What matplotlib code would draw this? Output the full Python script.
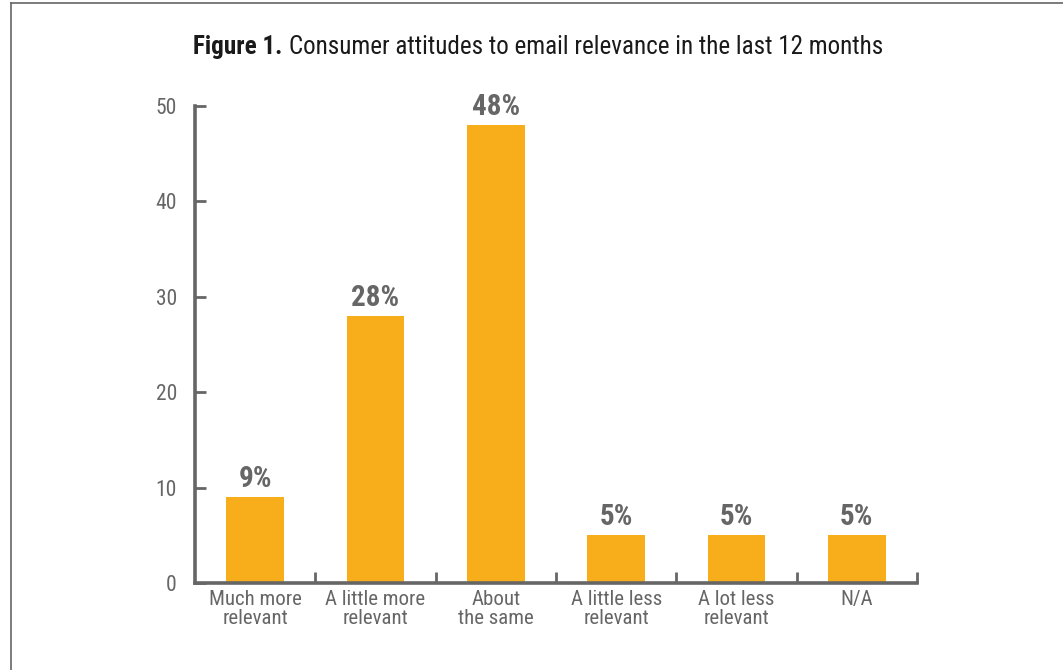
import matplotlib
matplotlib.use("Agg")
import matplotlib.pyplot as plt
from matplotlib import font_manager
from matplotlib.lines import Line2D

categories = ["Much more\nrelevant", "A little more\nrelevant", "About\nthe same",
              "A little less\nrelevant", "A lot less\nrelevant", "N/A"]
values = [9, 28, 48, 5, 5, 5]
yticks = [0, 10, 20, 30, 40, 50]

# prefer a narrow face if one is installed
names = sorted({f.name for f in font_manager.fontManager.ttflist})
stretch = "normal"
face = "Roboto"
for cand in ["Liberation Sans Narrow", "Roboto Condensed", "Open Sans Condensed"]:
    if cand in names:
        face = cand
        break
else:
    cond = [f for f in font_manager.fontManager.ttflist
            if f.name == "DejaVu Sans" and "ondensed" in f.fname]
    if cond:
        face, stretch = "DejaVu Sans", "condensed"
narrow = [face, "DejaVu Sans"]

grey = "#666666"
bar_color = "#F8AE1B"

fig = plt.figure(figsize=(10.63, 6.7), dpi=100)
ax = fig.add_axes([195 / 1063, 87 / 670, 722 / 1063, 477 / 670])

x = list(range(len(values)))
bars = ax.bar(x, values, width=0.48, color=bar_color, zorder=2)

for b, v in zip(bars, values):
    ax.text(b.get_x() + b.get_width() / 2, v + 0.45, f"{v}%", ha="center", va="bottom",
            fontsize=21, fontweight="bold", color=grey, family=narrow, stretch=stretch)

ax.set_xlim(-0.5, len(values) - 0.5)
ax.set_ylim(0, 50)

for s in ["top", "right"]:
    ax.spines[s].set_visible(False)
for s in ["left", "bottom"]:
    ax.spines[s].set_color(grey)
    ax.spines[s].set_linewidth(2.6)
    ax.spines[s].set_capstyle("projecting")

ax.set_yticks(yticks)
ax.set_yticklabels([str(t) for t in yticks], family=narrow, fontsize=15.5, color=grey,
                   stretch=stretch)
ax.tick_params(axis="y", direction="in", length=8, width=2, color=grey, pad=13)

# category labels sit between the boundary ticks
ax.set_xticks([i + 0.5 for i in range(len(values))])
ax.set_xticklabels([])
ax.tick_params(axis="x", direction="in", length=8, width=2, color=grey)
for i, c in enumerate(categories):
    ax.text(i, -0.7, c, ha="center", va="top", fontsize=15, color=grey,
            family=narrow, stretch=stretch, linespacing=1.05)

ty = 1 - 47 / 670
t1 = fig.text(193 / 1063, ty, "Figure 1.", fontsize=17, fontweight="bold",
              color="#1a1a1a", family=narrow, stretch=stretch, va="center", ha="left")
t2 = fig.text(0, ty, "Consumer attitudes to email relevance in the last 12 months",
              fontsize=17, color="#1a1a1a", family=narrow, stretch=stretch,
              va="center", ha="left")

# scale the title so it spans from the y axis to x=885 px
fig.canvas.draw()
gap = 6
w = t1.get_window_extent().width + gap + t2.get_window_extent().width
k = (885 - 193) / w
t1.set_fontsize(17 * k)
t2.set_fontsize(17 * k)
fig.canvas.draw()
t2.set_x((t1.get_window_extent().x1 + gap * k) / 1063)

# thin frame on the left and top edges
fig.add_artist(Line2D([11 / 1063, 11 / 1063], [0, 1 - 3 / 670], transform=fig.transFigure,
                      color=grey, linewidth=1.2))
fig.add_artist(Line2D([11 / 1063, 1], [1 - 3 / 670, 1 - 3 / 670], transform=fig.transFigure,
                      color=grey, linewidth=1.2))

fig.savefig("out.png", dpi=100)
